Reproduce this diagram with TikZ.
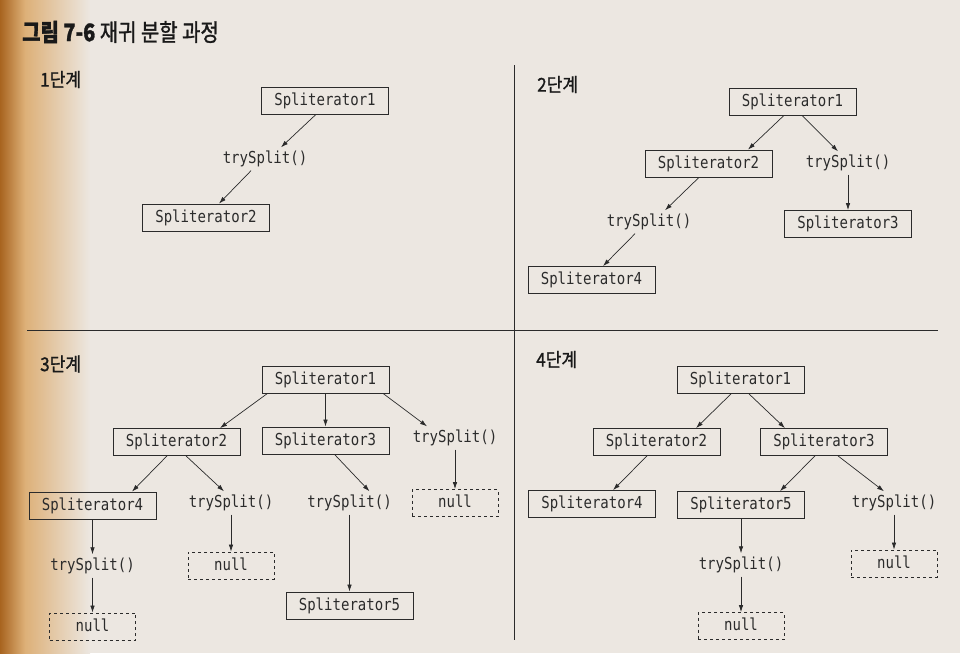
\documentclass[tikz,border=0pt]{standalone}
\usepackage{fontspec}
\newfontfamily\krtitle[FakeBold=1.2,FakeStretch=0.83]{Noto Sans CJK KR}
\newfontfamily\krfont[FakeBold=1.2,FakeStretch=0.9]{Noto Sans CJK KR}
\newfontfamily\codefont[FakeStretch=0.85]{DejaVu Sans Mono}
\usetikzlibrary{arrows.meta}
\definecolor{paper}{HTML}{ECE7E1}
\definecolor{ink}{HTML}{2B2B2B}
\definecolor{bindL}{HTML}{A8641F}
\definecolor{bindM}{HTML}{DDB078}

\begin{document}
\begin{tikzpicture}[x=1pt,y=-1pt,
    spl/.style={draw=ink,line width=0.8pt,minimum width=127pt,minimum height=27pt,inner sep=0pt,text=ink,
      font=\codefont\fontsize{16.5pt}{18pt}\selectfont,text height=12.5pt,text depth=3.5pt},
    nul/.style={spl,dashed,minimum width=86pt},
    call/.style={inner sep=0pt,minimum height=23pt,text=ink,
      font=\codefont\fontsize{16.5pt}{18pt}\selectfont,text height=12.5pt,text depth=3.5pt},
    lbl/.style={anchor=west,inner sep=0pt,text=black!90,font=\krfont\fontsize{19pt}{21pt}\selectfont},
    arr/.style={draw=ink,line width=0.7pt,-{Latex[length=7pt,width=4.5pt]}}]
  \useasboundingbox (0,0) rectangle (960,653);
  % paper and the page binding
  \fill[paper] (0,0) rectangle (960,653);
  \shade[left color=bindL,right color=bindM] (0,0) rectangle (25,653);
  \shade[left color=bindM,right color=paper] (25,0) rectangle (90,653);

  \node[anchor=west,inner sep=0pt,text=black!90,font=\krtitle\fontsize{24pt}{26pt}\selectfont](title)at(22,32){\bfseries 그림 7-6 \mdseries 재귀 분할 과정};
  \draw[ink,line width=0.8pt] (514,65) -- (514,640);
  \draw[ink,line width=0.8pt] (27,330) -- (938,330);

  % 1단계
  \node[lbl](l1)at(40,79.5){1단계};
  \node[spl](q1s1)at(325,100.5){Spliterator1};
  \node[call](q1t1)at(265,159){trySplit()};
  \node[spl](q1s2)at(206,217.5){Spliterator2};
  \draw[arr] ([xshift=-9pt]q1s1.south) -- ([xshift=16pt]q1t1.north);
  \draw[arr] ([xshift=-14pt]q1t1.south) -- ([xshift=13pt]q1s2.north);

  % 2단계
  \node[lbl](l2)at(537,84.5){2단계};
  \node[spl](q2s1)at(792.5,101.5){Spliterator1};
  \node[spl](q2s2)at(708.5,163.5){Spliterator2};
  \node[call](q2t1)at(848,163){trySplit()};
  \node[spl](q2s3)at(848,224){Spliterator3};
  \node[call](q2t2)at(649,222){trySplit()};
  \node[spl](q2s4)at(591.5,280){Spliterator4};
  \draw[arr] ([xshift=-8.5pt]q2s1.south) -- ([xshift=39.5pt]q2s2.north);
  \draw[arr] ([xshift=9.5pt]q2s1.south) -- ([xshift=-10pt]q2t1.north);
  \draw[arr] (q2t1) -- (q2s3);
  \draw[arr] ([xshift=-9.5pt]q2s2.south) -- ([xshift=16pt]q2t2.north);
  \draw[arr] ([xshift=-14pt]q2t2.south) -- ([xshift=11.5pt]q2s4.north);

  % 3단계
  \node[lbl](l3)at(40,364){3단계};
  \node[spl](q3s1)at(325.5,379.5){Spliterator1};
  \node[spl](q3s2)at(176.5,442){Spliterator2};
  \node[spl](q3s3)at(325.5,440.5){Spliterator3};
  \node[call](q3t1)at(455,438){trySplit()};
  \node[nul](q3n1)at(455,503){null};
  \node[spl](q3s4)at(92.5,505.5){Spliterator4};
  \node[call](q3t2)at(231,503){trySplit()};
  \node[nul](q3n2)at(231,565.5){null};
  \node[call](q3t3)at(349.5,503){trySplit()};
  \node[spl](q3s5)at(349.5,605.5){Spliterator5};
  \node[call](q3t4)at(92.5,566){trySplit()};
  \node[nul](q3n3)at(92.5,626.5){null};
  \draw[arr] ([xshift=-58pt]q3s1.south) -- ([xshift=43.5pt]q3s2.north);
  \draw[arr] (q3s1) -- (q3s3);
  \draw[arr] ([xshift=57.5pt]q3s1.south) -- ([xshift=-28pt]q3t1.north);
  \draw[arr] (q3t1) -- (q3n1);
  \draw[arr] ([xshift=-9.5pt]q3s2.south) -- ([xshift=39.5pt]q3s4.north);
  \draw[arr] ([xshift=9.5pt]q3s2.south) -- ([xshift=-7pt]q3t2.north);
  \draw[arr] (q3t2) -- (q3n2);
  \draw[arr] ([xshift=9pt]q3s3.south) -- ([xshift=20pt]q3t3.north);
  \draw[arr] (q3t3) -- (q3s5);
  \draw[arr] (q3s4) -- (q3t4);
  \draw[arr] (q3t4) -- (q3n3);

  % 4단계
  \node[lbl](l4)at(536,359.5){4단계};
  \node[spl](q4s1)at(740.5,380){Spliterator1};
  \node[spl](q4s2)at(656.5,442){Spliterator2};
  \node[spl](q4s3)at(824,442){Spliterator3};
  \node[spl](q4s4)at(592,504){Spliterator4};
  \node[spl](q4s5)at(741,505){Spliterator5};
  \node[call](q4t1)at(894,503){trySplit()};
  \node[nul](q4n1)at(894,563.5){null};
  \node[call](q4t2)at(741,565){trySplit()};
  \node[nul](q4n2)at(741,626){null};
  \draw[arr] ([xshift=-9.5pt]q4s1.south) -- ([xshift=39.5pt]q4s2.north);
  \draw[arr] ([xshift=8.5pt]q4s1.south) -- ([xshift=-39pt]q4s3.north);
  \draw[arr] ([xshift=-9.5pt]q4s2.south) -- ([xshift=21pt]q4s4.north);
  \draw[arr] ([xshift=-9pt]q4s3.south) -- ([xshift=39pt]q4s5.north);
  \draw[arr] ([xshift=14pt]q4s3.south) -- ([xshift=-10pt]q4t1.north);
  \draw[arr] (q4t1) -- (q4n1);
  \draw[arr] (q4s5) -- (q4t2);
  \draw[arr] (q4t2) -- (q4n2);
\end{tikzpicture}
\end{document}
